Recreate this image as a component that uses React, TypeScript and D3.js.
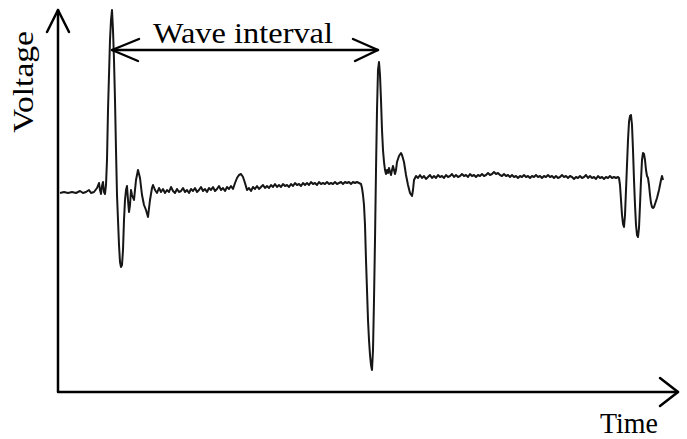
import React from "react";
import * as d3 from "d3";

// Trace samples as [time, voltage] pairs (arbitrary units)
const restBeforeFirst: [number, number][] = [
  [2, 0], [6, 1], [10, 0], [14, 1], [18, 0], [22, 2], [25, 0], [28, 1], [31, 3], [33, 0],
  [36, 1], [39, 5], [41, 10], [42, 3], [43, -1], [44, 7], [45, 11], [46, 1], [47, -1], [48, 8],
];
const firstSpike: [number, number][] = [
  [49, 33], [50, 83], [51, 118], [52, 153], [53, 173], [54, 183], [55, 163], [56, 133], [57, 93],
  [58, 43], [59, -2], [60, -27], [61, -52], [62, -69], [63, -74], [64, -72], [65, -57], [66, -27],
  [67, -7], [68, 3], [69, 7], [70, -7], [71, -19], [72, -12], [73, 3], [74, -2], [76, -7], [78, 13],
  [80, 23], [82, 15], [84, -2], [86, -12], [88, -17], [90, -24], [92, -7], [94, 5], [95, 8], [97, 3],
];
const restBetween: [number, number][] = [
  [99, 0], [101, 5], [103, 1], [105, 4], [107, 0], [109, 3], [111, 1], [113, 6], [115, 2], [117, 0],
  [119, 4], [121, 1], [123, 2], [125, 5], [127, 1], [129, 3], [131, 0], [133, 4], [135, 2], [137, 5],
  [139, 1], [141, 3], [143, 6], [145, 2], [147, 4], [149, 1], [151, 5], [153, 3], [155, 6], [157, 2],
  [159, 4], [161, 7], [163, 3], [165, 5], [167, 2], [169, 6], [171, 4], [173, 7], [175, 4], [177, 10],
  [179, 15], [181, 18], [183, 19], [185, 16], [187, 10], [189, 3], [191, 5], [193, 2], [195, 6], [197, 4],
  [199, 7], [201, 4], [203, 6], [205, 8], [207, 5], [209, 7], [211, 5], [213, 8], [215, 6], [217, 9],
  [219, 6], [221, 8], [223, 6], [225, 9], [227, 7], [229, 8], [231, 6], [233, 9], [235, 7], [237, 10],
  [239, 8], [241, 9], [243, 7], [245, 10], [247, 8], [249, 10], [251, 8], [253, 11], [255, 9], [257, 10],
  [259, 8], [261, 11], [263, 9], [265, 10], [267, 9], [269, 11], [271, 9], [273, 10], [275, 9], [277, 11],
  [279, 9], [281, 10], [283, 11], [285, 9], [287, 11], [289, 10], [291, 11], [293, 9], [295, 11], [297, 10],
  [299, 11], [301, 10], [303, 9],
];
const secondSpike: [number, number][] = [
  [304, 5], [305, -2], [306, -12], [307, -32], [308, -67], [309, -97], [310, -127], [311, -147],
  [312, -162], [313, -172], [314, -177], [315, -157], [316, -107], [317, -47], [318, 23], [319, 83],
  [320, 123], [321, 131], [322, 118], [323, 93], [324, 63], [325, 43], [326, 31], [327, 23], [328, 19],
  [329, 23], [330, 20], [331, 25], [332, 21], [333, 18], [334, 23], [335, 27], [336, 23], [337, 19],
  [338, 23], [339, 31], [341, 37], [343, 40], [344, 38], [346, 31], [348, 18], [350, 8], [352, 0],
  [354, -3], [355, 3], [356, 13], [358, 17], [360, 15], [362, 18], [364, 15], [366, 17], [368, 14],
  [370, 16], [372, 18], [374, 15],
];
const restAfter: [number, number][] = [
  [376, 17], [378, 15], [380, 18], [382, 16], [384, 17], [386, 15], [388, 18], [390, 16], [392, 17], [394, 19],
  [396, 16], [398, 18], [400, 16], [402, 17], [404, 19], [406, 17], [408, 18], [410, 16], [412, 19], [414, 17],
  [416, 18], [418, 16], [420, 18], [422, 17], [424, 19], [426, 17], [428, 18], [430, 20], [432, 18], [434, 19],
  [436, 21], [438, 19], [440, 20], [442, 18], [444, 17], [446, 19], [448, 17], [450, 18], [452, 16], [454, 18],
  [456, 16], [458, 17], [460, 15], [462, 17], [464, 16], [466, 18], [468, 16], [470, 17], [472, 15], [474, 17],
  [476, 16], [478, 18], [480, 16], [482, 17], [484, 15], [486, 17], [488, 16], [490, 18], [492, 16], [494, 17],
  [496, 15], [498, 17], [500, 15], [502, 16], [504, 18], [506, 16], [508, 17], [510, 15], [512, 17], [514, 16],
  [516, 14], [518, 16], [520, 15], [522, 17], [524, 15], [526, 16], [528, 18], [530, 15], [532, 17], [534, 15],
  [536, 16], [538, 14], [540, 17], [542, 15], [544, 16], [546, 14], [548, 16], [550, 15], [552, 17], [554, 15],
  [556, 16], [558, 15], [560, 16],
];
const thirdBurst: [number, number][] = [
  [561, 15], [562, 8], [563, -7], [564, -22], [565, -31], [566, -34], [567, -22], [568, 3], [569, 28],
  [570, 53], [571, 71], [572, 77], [573, 78], [574, 68], [575, 43], [576, 13], [577, -12], [578, -32],
  [579, -42], [580, -44], [581, -35], [582, -12], [583, 13], [584, 33], [585, 40], [586, 39], [587, 33],
  [588, 23], [589, 17], [590, 15], [591, 8], [592, -2], [593, -10], [594, -14], [595, -15], [596, -14],
  [597, -11], [599, -5], [601, 3], [603, 13], [604, 17], [605, 13],
];

// Wave interval: from the first spike peak to the second spike peak
const intervalStart = 54;
const intervalEnd = 320;
const intervalLevel = 143;

const timeDomain: [number, number] = [0, 620];
const voltageDomain: [number, number] = [-199, 183];

const axisLabelY = "Voltage";
const axisLabelX = "Time";
const intervalLabel = "Wave interval";

export default function App() {
  const W = 687;
  const H = 439;
  const x = d3.scaleLinear().domain(timeDomain).range([58, 678]);
  const y = d3.scaleLinear().domain(voltageDomain).range([392, 10]);

  const trace = [
    ...restBeforeFirst,
    ...firstSpike,
    ...restBetween,
    ...secondSpike,
    ...restAfter,
    ...thirdBurst,
  ];
  const line = d3
    .line<[number, number]>()
    .x((d) => x(d[0]))
    .y((d) => y(d[1]));

  const x0 = x(timeDomain[0]);
  const x1 = x(timeDomain[1]);
  const y0 = y(voltageDomain[0]);
  const y1 = y(voltageDomain[1]);

  const ax1 = x(intervalStart);
  const ax2 = x(intervalEnd);
  const ay = y(intervalLevel);

  const font = "'Liberation Serif', 'Times New Roman', serif";

  return (
    <svg
      width={W}
      height={H}
      style={{ position: "absolute", left: 0, top: 0, background: "#fff" }}
    >
      <rect width={W} height={H} fill="#fff" />
      {/* axes */}
      <g stroke="#000" strokeWidth={2.5} fill="none" strokeLinecap="round" strokeLinejoin="round">
        <path d={`M${x0},${y1} L${x0},${y0} L${x1},${y0}`} />
        <path d={`M${x0 - 11},${y1 + 22} L${x0},${y1} L${x0 + 11},${y1 + 22}`} />
        <path d={`M${x1 - 18},${y0 - 14} L${x1},${y0} L${x1 - 18},${y0 + 14}`} />
      </g>
      {/* trace */}
      <path d={line(trace) || ""} fill="none" stroke="#161616" strokeWidth={2} strokeLinejoin="round" />
      {/* interval arrow */}
      <g stroke="#000" strokeWidth={2.4} fill="none" strokeLinecap="round" strokeLinejoin="round">
        <line x1={ax1} y1={ay} x2={ax2} y2={ay} />
        <path d={`M${ax1 + 27},${ay - 11} L${ax1},${ay} L${ax1 + 26},${ay + 11}`} />
        <path d={`M${ax2 - 25},${ay - 11} L${ax2},${ay} L${ax2 - 23},${ay + 11}`} />
      </g>
      <text
        x={153}
        y={43}
        fontFamily={font}
        fontSize={30}
        textLength={180}
        lengthAdjust="spacingAndGlyphs"
        fill="#000"
      >
        {intervalLabel}
      </text>
      <text
        transform="translate(33,82) rotate(-90)"
        textAnchor="middle"
        fontFamily={font}
        fontSize={30}
        textLength={102}
        lengthAdjust="spacingAndGlyphs"
        fill="#000"
      >
        {axisLabelY}
      </text>
      <text
        x={600}
        y={433}
        fontFamily={font}
        fontSize={30}
        textLength={58}
        lengthAdjust="spacingAndGlyphs"
        fill="#000"
      >
        {axisLabelX}
      </text>
    </svg>
  );
}
